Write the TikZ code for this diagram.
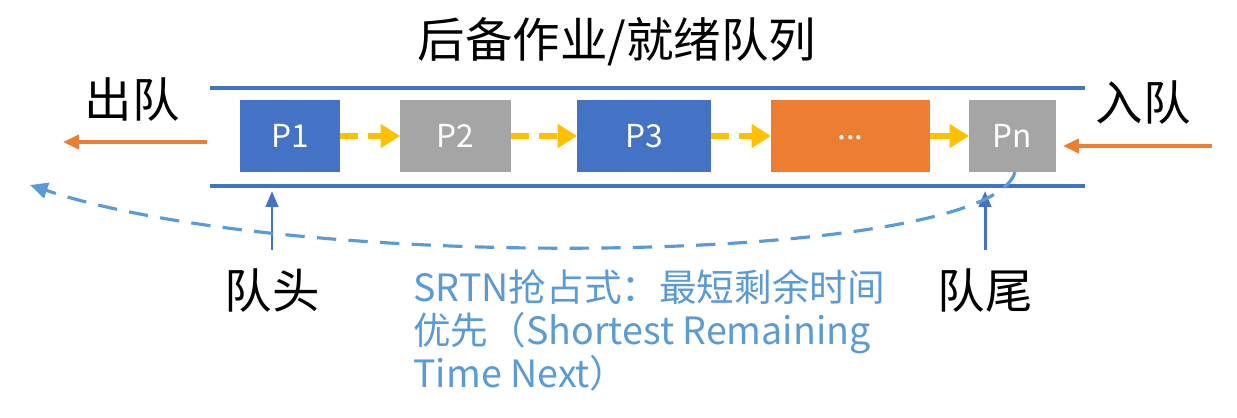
\documentclass[tikz,border=0pt]{standalone}
\usepackage{fontspec}
\setmainfont{Noto Sans CJK SC}
\usetikzlibrary{arrows.meta}
\definecolor{qblue}{HTML}{4472C4}
\definecolor{qgray}{HTML}{A5A5A5}
\definecolor{qorange}{HTML}{ED7D31}
\definecolor{qyellow}{HTML}{FFC000}
\definecolor{qlight}{HTML}{5B9BD5}
\begin{document}
\begin{tikzpicture}[x=0.02cm,y=-0.02cm,
  proc/.style={draw=none,inner sep=0pt,text=white,font=\fontsize{18}{20}\selectfont},
  big/.style={font=\fontsize{27}{30}\selectfont,inner sep=0pt},
  rail/.style={qblue,line width=2.2pt},
  flow/.style={qyellow,line width=3.2pt,dash pattern=on 10pt off 6pt,-{Triangle[length=11pt,width=13pt]}},
  flowsolid/.style={qyellow,line width=3.2pt,-{Triangle[length=11pt,width=13pt]}},
  qarrow/.style={qorange,line width=1.8pt,-{Triangle[length=9pt,width=8pt]}},
  barrow/.style={qblue,line width=1.7pt,-{Triangle[length=9pt,width=7pt]}},
  back/.style={qlight,line width=1.8pt,dash pattern=on 11pt off 7pt,-{Triangle[length=10pt,width=9pt]}}]
\useasboundingbox (0,0) rectangle (1237,418);
% title
\node[big] (title) at (617,42) {后备作业/就绪队列};
% rails
\coordinate (tl) at (210,88); \coordinate (tr) at (1085,88);
\coordinate (bl) at (210,186); \coordinate (br) at (1085,186);
\draw[rail] (tl) -- (tr);
\draw[rail] (bl) -- (br);
% processes
\path[fill=qblue] (240,100) rectangle (340,172);
\node[proc] (P1) at (290,136) {P1};
\path[fill=qgray] (400,100) rectangle (511,172);
\node[proc] (P2) at (455.5,136) {P2};
\path[fill=qblue] (577,100) rectangle (711,172);
\node[proc] (P3) at (644,136) {P3};
\path[fill=qorange] (771,100) rectangle (930,172);
\node[proc] (PD) at (850.5,138) {...};
\path[fill=qgray] (969,100) rectangle (1056,172);
\node[proc] (PN) at (1012.5,136) {Pn};
\coordinate (p1r) at (340,136); \coordinate (p2l) at (400,136);
\coordinate (p2r) at (511,136); \coordinate (p3l) at (577,136);
\coordinate (p3r) at (711,136); \coordinate (pdl) at (771,136);
\coordinate (pdr) at (930,136); \coordinate (pnl) at (969,136);
\draw[flow] (p1r) -- (p2l);
\draw[flow] (p2r) -- (p3l);
\draw[flow] (p3r) -- (pdl);
\draw[flowsolid] (pdr) -- (pnl);
% dequeue / enqueue
\node[big] (out) at (132,100) {出队};
\coordinate (outs) at (207,142); \coordinate (oute) at (63,142);
\draw[qarrow] (outs) -- (oute);
\node[big] (in) at (1143,103) {入队};
\coordinate (ins) at (1212,146); \coordinate (ine) at (1063,146);
\draw[qarrow] (ins) -- (ine);
% head / tail
\node[big] (head) at (272,291) {队头};
\node[big] (tail) at (985,291) {队尾};
\coordinate (hs) at (272,250); \coordinate (he) at (272,191);
\coordinate (ts) at (985,250); \coordinate (te) at (985,191);
\draw[barrow] (hs) -- (he);
\draw[barrow] (ts) -- (te);
% back curve
\coordinate (cs) at (1015,172); \coordinate (ce) at (30,185);
\draw[back] (cs) .. controls (990,265) and (300,275) .. (ce);
% SRTN text
\node[anchor=north west,inner sep=0pt,text=qlight,align=left,
  font=\fontsize{21.4}{24.4}\selectfont] (srtn) at (413,269)
  {SRTN抢占式：最短剩余时间\\优先（Shortest Remaining\\Time Next）};
\end{tikzpicture}
\end{document}
